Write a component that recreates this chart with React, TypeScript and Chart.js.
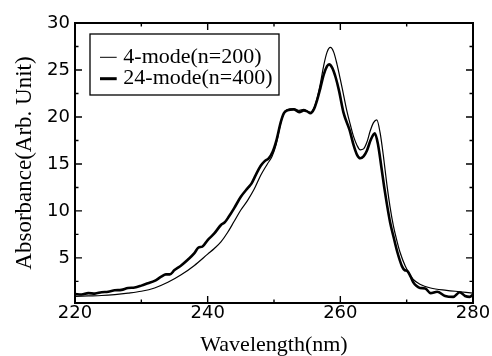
import React, { useEffect, useRef } from "react";
import { Chart, registerables } from "chart.js";

Chart.register(...registerables);

const seriesLabels = ["4-mode(n=200)", "24-mode(n=400)"];

const wavelength4 = [
  220, 222, 224, 226, 228, 230, 232, 234, 236, 238, 240, 241, 242, 243, 244, 245, 246, 247, 248, 249,
  249.7, 250.3, 251, 251.5, 252, 253, 253.8, 254.5, 255, 255.5, 256, 256.5, 257, 257.5, 258, 258.5,
  259, 259.5, 260, 260.5, 261, 261.5, 262, 262.5, 263, 263.5, 264, 264.5, 265, 265.5, 266, 266.5,
  267, 267.5, 268, 268.5, 269, 269.8, 270.5, 271, 272, 273.6, 276, 278, 280,
];
const absorbance4 = [
  0.9, 0.95, 1.0, 1.1, 1.25, 1.45, 1.8, 2.4, 3.2, 4.2, 5.4, 6.0, 6.7, 7.7, 8.9, 10.1, 11.1, 12.3, 13.8, 15.0,
  15.8, 17.0, 19.3, 20.4, 20.8, 20.9, 20.7, 20.8, 20.6, 20.5, 20.9, 22.0, 23.6, 25.5, 26.9, 27.4,
  26.9, 25.6, 24.0, 22.3, 20.6, 19.2, 17.9, 17.0, 16.5, 16.6, 17.3, 18.5, 19.4, 19.7, 18.3, 15.8,
  12.9, 10.4, 8.4, 6.9, 5.6, 4.1, 3.2, 2.7, 2.2, 1.8, 1.55, 1.4, 1.25,
];

const wavelength24 = [
  220, 221, 222, 223, 224, 225, 226, 227, 228, 229, 230, 231, 232, 233, 233.7, 234.3, 235, 236, 237, 238,
  238.6, 239.2, 240, 241, 242, 242.6, 243.2, 244, 245, 246, 246.6, 247.3, 248, 248.6, 249.2, 249.8,
  250.4, 251, 251.5, 252, 253, 253.8, 254.5, 255, 255.5, 256, 256.5, 257, 257.5, 258, 258.3, 258.8,
  259.3, 259.8, 260.5, 261.4, 262, 262.5, 263, 263.5, 264, 264.6, 265.2, 265.7, 266.2, 266.6, 267,
  267.5, 268, 268.6, 269.3, 269.7, 270.1, 270.6, 271, 271.5, 272, 272.8, 273.6, 274.6, 275.8, 277,
  278, 278.8, 279.5, 280,
];
const absorbance24 = [
  1.15, 1.1, 1.25, 1.2, 1.35, 1.4, 1.55, 1.6, 1.8, 1.85, 2.05, 2.3, 2.55, 3.0, 3.25, 3.25, 3.7, 4.2, 4.8, 5.5,
  6.1, 6.2, 6.9, 7.6, 8.5, 8.8, 9.4, 10.3, 11.5, 12.4, 12.9, 13.9, 14.8, 15.3, 15.6, 16.3,
  17.6, 19.4, 20.4, 20.7, 20.8, 20.5, 20.7, 20.6, 20.4, 20.8, 21.8, 23.1, 24.5, 25.4, 25.6, 25.2,
  24.2, 22.8, 20.4, 18.6, 17.0, 16.0, 15.6, 15.8, 16.4, 17.6, 18.25, 17.0, 14.6, 12.6, 10.8,
  8.8, 7.3, 5.6, 4.1, 3.7, 3.6, 3.0, 2.4, 2.0, 1.8, 1.75, 1.25, 1.4, 0.95, 0.85,
  1.35, 0.95, 0.85, 1.1,
];

const xMajorTicks = [220, 240, 260, 280];
const xMinorTicks = [230, 250, 270];
const yMajorTicks = [5, 10, 15, 20, 25, 30];
const yMinorTicks = [2.5, 7.5, 12.5, 17.5, 22.5, 27.5];

const X_MIN = 220;
const X_MAX = 280;
const Y_MIN = 0.2;
const Y_MAX = 30;

const framePlugin = {
  id: "frameAndLegend",
  afterDatasetsDraw(chart: any) {
    const { ctx, chartArea: a, scales } = chart;
    const xs = scales.x;
    const ys = scales.y;
    ctx.save();
    ctx.strokeStyle = "#000";
    ctx.lineCap = "butt";
    // inward ticks
    ctx.lineWidth = 1.4;
    const drawX = (v: number, len: number) => {
      const px = xs.getPixelForValue(v);
      ctx.beginPath();
      ctx.moveTo(px, a.bottom);
      ctx.lineTo(px, a.bottom - len);
      ctx.moveTo(px, a.top);
      ctx.lineTo(px, a.top + len);
      ctx.stroke();
    };
    const drawY = (v: number, len: number) => {
      const py = ys.getPixelForValue(v);
      ctx.beginPath();
      ctx.moveTo(a.left, py);
      ctx.lineTo(a.left + len, py);
      ctx.moveTo(a.right, py);
      ctx.lineTo(a.right - len, py);
      ctx.stroke();
    };
    xMajorTicks.forEach((v) => drawX(v, 7));
    xMinorTicks.forEach((v) => drawX(v, 3.5));
    yMajorTicks.forEach((v) => drawY(v, 7));
    yMinorTicks.forEach((v) => drawY(v, 3.5));
    // frame
    ctx.lineWidth = 2;
    ctx.strokeRect(a.left, a.top, a.right - a.left, a.bottom - a.top);

    // legend box
    const lx = a.left + 15;
    const ly = a.top + 11;
    const lw = 189;
    const lh = 61;
    ctx.fillStyle = "#fff";
    ctx.fillRect(lx, ly, lw, lh);
    ctx.lineWidth = 1.3;
    ctx.strokeRect(lx, ly, lw, lh);
    const widths = [1, 3];
    const rowsY = [ly + 23.3, ly + 44.7];
    ctx.font = "22px 'Liberation Serif', 'Times New Roman', serif";
    ctx.fillStyle = "#000";
    ctx.textBaseline = "alphabetic";
    ctx.textAlign = "left";
    seriesLabels.forEach((label, i) => {
      ctx.lineWidth = widths[i];
      ctx.beginPath();
      ctx.moveTo(lx + 10, rowsY[i]);
      ctx.lineTo(lx + 26.7, rowsY[i]);
      ctx.stroke();
      ctx.fillText(label, lx + 33.3, rowsY[i] + 5.2);
    });
    ctx.restore();
  },
};

export default function App() {
  const canvasRef = useRef<HTMLCanvasElement | null>(null);

  useEffect(() => {
    const canvas = canvasRef.current;
    if (!canvas) return;
    const toPoints = (xs: number[], ys: number[]) => xs.map((x, i) => ({ x, y: ys[i] }));
    const chart = new Chart(canvas, {
      type: "line",
      data: {
        datasets: [
          {
            label: seriesLabels[0],
            data: toPoints(wavelength4, absorbance4),
            borderColor: "#000",
            borderWidth: 1.2,
            pointRadius: 0,
            cubicInterpolationMode: "monotone",
            fill: false,
          },
          {
            label: seriesLabels[1],
            data: toPoints(wavelength24, absorbance24),
            borderColor: "#000",
            borderWidth: 2.6,
            pointRadius: 0,
            cubicInterpolationMode: "monotone",
            fill: false,
          },
        ],
      },
      options: {
        animation: false,
        responsive: false,
        maintainAspectRatio: false,
        layout: { padding: { top: 23, right: 19, left: 0, bottom: 0 } },
        plugins: {
          legend: { display: false },
          tooltip: { enabled: false },
        },
        scales: {
          x: {
            type: "linear",
            min: X_MIN,
            max: X_MAX,
            grid: { display: false, drawTicks: false },
            border: { display: false },
            afterBuildTicks: (s: any) => {
              s.ticks = xMajorTicks.map((v) => ({ value: v }));
            },
            afterFit: (s: any) => {
              s.height = 53;
            },
            ticks: {
              color: "#000",
              padding: 0,
              maxRotation: 0,
              font: { family: "'DejaVu Sans', sans-serif", size: 18 },
            },
            title: {
              display: true,
              text: "Wavelength(nm)",
              color: "#000",
              padding: { top: 0, bottom: 0 },
              font: { family: "'Liberation Serif', 'Times New Roman', serif", size: 22, lineHeight: 1 },
            },
          },
          y: {
            type: "linear",
            min: Y_MIN,
            max: Y_MAX,
            grid: { display: false, drawTicks: false },
            border: { display: false },
            afterBuildTicks: (s: any) => {
              s.ticks = yMajorTicks.map((v) => ({ value: v }));
            },
            afterFit: (s: any) => {
              s.width = 75;
            },
            ticks: {
              color: "#000",
              padding: 5,
              font: { family: "'DejaVu Sans', sans-serif", size: 18 },
            },
            title: {
              display: true,
              text: "Absorbance(Arb. Unit)",
              color: "#000",
              padding: { top: 13, bottom: 0 },
              font: { family: "'Liberation Serif', 'Times New Roman', serif", size: 23, lineHeight: 1 },
            },
          },
        },
      },
      plugins: [framePlugin],
    });
    return () => chart.destroy();
  }, []);

  return (
    <div style={{ position: "fixed", left: 0, top: 0, width: 492, height: 356, background: "#fff" }}>
      <canvas ref={canvasRef} width={492} height={356} style={{ width: 492, height: 356, display: "block" }} />
    </div>
  );
}
